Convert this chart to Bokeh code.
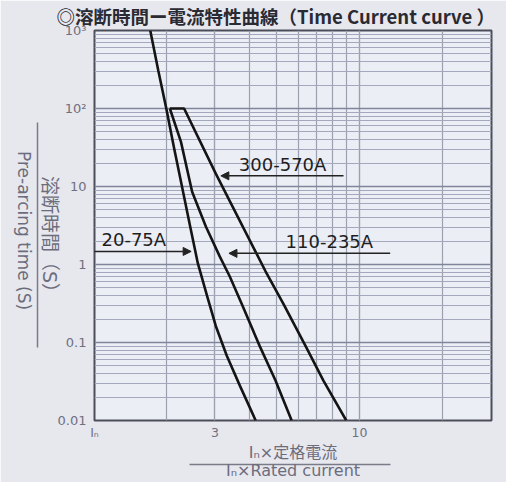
import math
from bokeh.plotting import figure
from bokeh.models import FixedTicker, Arrow, NormalHead, Range1d, LogAxis
from bokeh.embed import file_html
from bokeh.resources import INLINE
from bokeh.core.properties import value

# ---------------- data ----------------
x_ticks = [1.1, 3, 10]
x_tick_labels = ["Iₙ", "3", "10"]
x_minor_ticks = [2, 3, 4, 5, 6, 7, 8, 9, 10, 20]

y_ticks = [0.01, 0.1, 1, 10, 100, 1000]
y_tick_labels = ["0.01", "0.1", "1", "10", "10²", "10³"]
y_minor_ticks = [round(k * 10.0 ** e, 10) for e in range(-2, 3) for k in range(2, 10)]

series_names = ["20-75A", "110-235A", "300-570A"]

a20_x = [1.75, 1.87, 2.00, 2.13, 2.28, 2.44, 2.60, 2.81, 3.02, 3.31, 3.69, 4.21]
a20_y = [1000, 309, 100, 32.2, 9.94, 3.07, 1.04, 0.393, 0.163, 0.0675, 0.028, 0.01]

a110_x = [2.06, 2.26, 2.48, 2.78, 3.12, 3.39, 3.75, 4.35, 4.97, 5.68]
a110_y = [100, 37.3, 8.58, 3.07, 1.27, 0.707, 0.311, 0.0905, 0.0324, 0.01]

a300_x = [2.06, 2.32, 3.02, 4.57, 5.31, 6.43, 7.40, 8.95]
a300_y = [100, 100, 14.6, 0.819, 0.311, 0.0853, 0.0324, 0.01]

# label leader lines: text x, line y, line start x, arrow tip x
lab_text_x = [1.166, 5.40, 3.66]
lab_line_y = [1.47, 1.39, 13.7]
lab_line_from = [1.06, 12.9, 8.75]
lab_line_to = [2.46, 3.37, 3.15]

# axis-title anchors / fraction-bar extents (data units)
ylab_jp_end = 0.33       # lower end of the rotated Japanese y title
ylab_en_end = 0.26       # lower end of the rotated English y title
ybar_bounds = (0.0853, 67)
xbar_bounds = (2.43, 12.9)

title_text = "◎溶断時間ー電流特性曲線（Time Current curve ）"
ylab_jp = "溶断時間（S）"
ylab_en = "Pre-arcing time (S)"
xlab_jp = "Iₙ×定格電流"
xlab_en = "Iₙ×Rated current"

LABEL_GRAY = "#6c6d7c"
BAR_GRAY = "#7a7b88"
MIXED_FONT = "DejaVu Sans, Noto Sans CJK JP"

# ---------------- figure ----------------
p = figure(width=506, height=482, x_axis_type="log", y_axis_type="log",
           x_range=Range1d(1.1, 30), y_range=Range1d(0.01, 1000),
           output_backend="svg", toolbar_location=None,
           min_border_left=92, min_border_right=15,
           min_border_top=30, min_border_bottom=60)

p.background_fill_color = "#eceef5"
p.border_fill_color = "#e7e7ee"
p.outline_line_color = "#4b4e5a"
p.outline_line_width = 2

# title
p.title.text = title_text
p.title.align = "left"
p.title.offset = -38
p.title.standoff = 0
p.title.vertical_align = "top"
p.title.text_font = "Noto Sans CJK JP"
p.title.text_font_size = "18.5px"
p.title.text_font_style = "bold"
p.title.text_color = "#2a2a32"

for ax in (p.xaxis, p.yaxis):
    ax.axis_line_color = None
    ax.major_tick_line_color = None
    ax.minor_tick_line_color = None
    ax.major_tick_out = 0
    ax.major_tick_in = 0
    ax.major_label_text_color = "#6f7080"
    ax.major_label_text_font = "DejaVu Sans"
    ax.major_label_text_font_size = "13px"
    ax.axis_label_text_font_style = "normal"
    ax.axis_label_text_color = LABEL_GRAY
    ax.axis_label_text_font = MIXED_FONT

p.xaxis.ticker = FixedTicker(ticks=x_ticks, minor_ticks=x_minor_ticks)
p.xaxis.major_label_overrides = dict(zip(x_ticks, x_tick_labels))
p.xaxis.major_label_standoff = 0
p.xaxis.major_label_text_font_size = "12.5px"
p.xaxis.axis_label = xlab_jp
p.xaxis.axis_label_standoff = 0
p.xaxis.axis_label_text_font_size = "16px"

p.yaxis.ticker = FixedTicker(ticks=y_ticks, minor_ticks=y_minor_ticks)
p.yaxis.major_label_overrides = dict(zip(y_ticks, y_tick_labels))
p.yaxis.major_label_standoff = 4
# blank spacer label: pushes the fraction bar out to its place
p.yaxis.axis_label = " "
p.yaxis.axis_label_text_font_size = "1px"
p.yaxis.axis_label_standoff = 13


def side_axis(anchor, text, font, size, standoff, line_color, bounds):
    kw = dict(ticker=FixedTicker(ticks=[anchor]),
              major_label_overrides={anchor: text},
              major_label_orientation=-math.pi / 2,
              major_label_standoff=standoff,
              major_label_text_font=font, major_label_text_font_size=size,
              major_label_text_color=LABEL_GRAY,
              major_tick_line_color=None, minor_tick_line_color=None,
              major_tick_in=0, major_tick_out=0,
              axis_line_color=line_color, axis_line_width=1.5)
    if bounds is not None:
        kw["bounds"] = bounds
    return LogAxis(**kw)


# fraction bar (axis line) with the Japanese title drawn on its inner side,
# then the English title outside it
p.add_layout(side_axis(ylab_jp_end, ylab_jp, MIXED_FONT, "19px", -12, BAR_GRAY, ybar_bounds), "left")
p.add_layout(side_axis(ylab_en_end, ylab_en, "DejaVu Sans", "17px", 1, None, None), "left")

# English x title; its axis line is the fraction bar
ax_x2 = LogAxis(ticker=FixedTicker(ticks=[]), bounds=xbar_bounds, axis_label=xlab_en,
                axis_line_color=BAR_GRAY, axis_line_width=1.5,
                major_tick_line_color=None, minor_tick_line_color=None,
                major_tick_in=0, major_tick_out=0,
                axis_label_standoff=-4, axis_label_text_font="DejaVu Sans",
                axis_label_text_font_size="16px", axis_label_text_font_style="normal",
                axis_label_text_color=LABEL_GRAY)
p.add_layout(ax_x2, "below")

p.xgrid.grid_line_color = "#9ba1ae"
p.xgrid.grid_line_width = 1.2
p.xgrid.minor_grid_line_color = "#9ba1ae"
p.xgrid.minor_grid_line_width = 1.2
p.ygrid.grid_line_color = "#7f869c"
p.ygrid.grid_line_width = 1.6
p.ygrid.minor_grid_line_color = "#a3a8bc"
p.ygrid.minor_grid_line_width = 1.1

# curves
for xs, ys in ((a20_x, a20_y), (a110_x, a110_y), (a300_x, a300_y)):
    p.line(xs, ys, line_color="#141414", line_width=2.6)

# leader lines with arrows
for x0, x1, yy in zip(lab_line_from, lab_line_to, lab_line_y):
    p.add_layout(Arrow(end=NormalHead(size=8, fill_color="#222222", line_color="#222222"),
                       x_start=x0, y_start=yy, x_end=x1, y_end=yy,
                       line_color="#222222", line_width=1.5))

p.text(x=lab_text_x, y=lab_line_y, text=series_names,
       text_font=value("DejaVu Sans"), text_font_size="18px",
       text_baseline="bottom", text_color="#1e1e1e", y_offset=-1)

open("out.html", "w").write(file_html(p, INLINE))
